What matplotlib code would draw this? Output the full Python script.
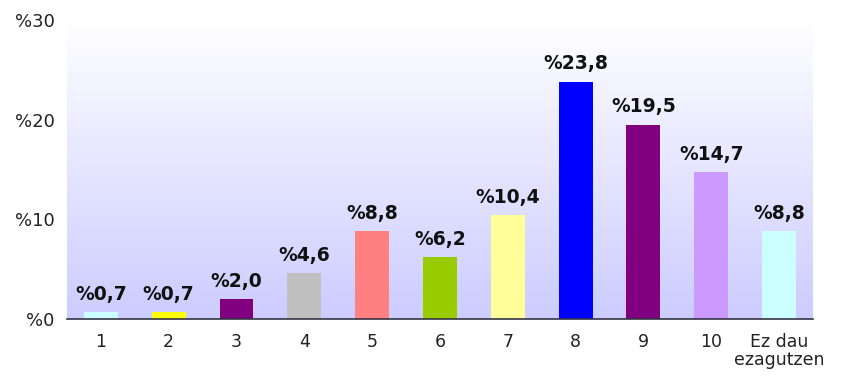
import numpy as np
import matplotlib
matplotlib.use("Agg")
import matplotlib.pyplot as plt
from matplotlib.colors import LinearSegmentedColormap

categories = ["1", "2", "3", "4", "5", "6", "7", "8", "9", "10", "Ez dau\nezagutzen"]
values = [0.7, 0.7, 2.0, 4.6, 8.8, 6.2, 10.4, 23.8, 19.5, 14.7, 8.8]
colors = ["#CCFFFF", "#FFFF00", "#800080", "#C0C0C0", "#FF8080", "#99CC00",
          "#FFFF99", "#0000FF", "#800080", "#CC99FF", "#CCFFFF"]
yticks = [0, 10, 20, 30]

plt.rcParams['font.family'] = ['DejaVu Sans']

fig = plt.figure(figsize=(8.41, 3.76), dpi=100)
ax = fig.add_axes([67/841, 57/376, 746/841, 299/376])

x = np.arange(len(categories))
ax.set_xlim(-0.5, len(categories) - 0.5)
ax.set_ylim(0, 30)

# gradient background
cmap = LinearSegmentedColormap.from_list("bg", ["#CCCCFF", "#FFFFFF"])
grad = np.linspace(0, 1, 256).reshape(-1, 1)
ax.imshow(grad, extent=[-0.5, len(categories) - 0.5, 0, 30], origin="lower",
          cmap=cmap, aspect="auto", zorder=0)

ax.bar(x, values, width=0.5, color=colors, zorder=2)

for xi, v in zip(x, values):
    ax.annotate(f"%{v:.1f}".replace(".", ","), (xi, v), xytext=(0, 6),
                textcoords="offset points", ha="center", va="bottom",
                fontsize=13.5, fontweight="bold", color="#111111", zorder=3)

ax.set_xticks(x)
ax.set_xticklabels(categories, fontsize=12.5, color="#222222", linespacing=1.0)
ax.set_yticks(yticks)
ax.set_yticklabels([f"%{t}" for t in yticks], fontsize=13, color="#222222")
ax.tick_params(axis="both", length=0)
ax.tick_params(axis="y", pad=9)
ax.tick_params(axis="x", pad=10)

for s in ["top", "right", "left"]:
    ax.spines[s].set_visible(False)
ax.spines["bottom"].set_color("#333344")
ax.spines["bottom"].set_linewidth(1.2)
ax.spines["bottom"].set_zorder(4)

fig.savefig("out.png", dpi=100, facecolor="white")
